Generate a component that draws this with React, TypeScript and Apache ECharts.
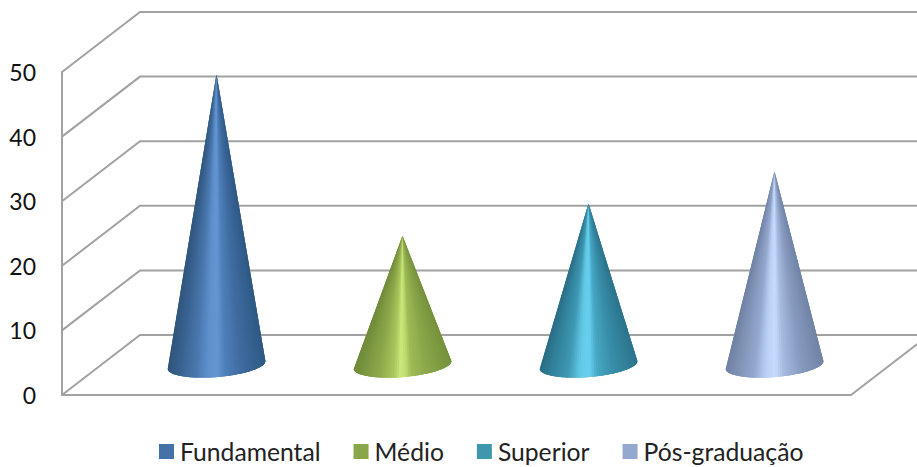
import React, { useEffect, useRef } from "react";
import * as echarts from "echarts";

const seriesNames = ["Fundamental", "Médio", "Superior", "Pós-graduação"];
const fundamental = [45];
const medio = [20];
const superior = [25];
const posGraduacao = [30];
const seriesValues = [fundamental, medio, superior, posGraduacao];
const categories = ["Escolaridade"];
const yTicks = [0, 10, 20, 30, 40, 50];

const legendColors = ["#4472a8", "#8aa64b", "#3f97ae", "#94a8d0"];
// shading across each cone, from left silhouette to right silhouette: [position, colour]
const shades: [number, string][][] = [
  [[0, "#2e5985"], [0.25, "#3f6b9f"], [0.42, "#4f7fb9"], [0.5, "#6496d4"], [0.6, "#5f90cd"], [0.72, "#4a78ae"], [0.88, "#3a6392"], [1, "#30567c"]],
  [[0, "#76923c"], [0.25, "#8ba74a"], [0.42, "#a0bc56"], [0.47, "#bcd96c"], [0.53, "#cbe97f"], [0.6, "#aac65c"], [0.75, "#8ea94b"], [1, "#708b3a"]],
  [[0, "#2c748d"], [0.25, "#388ea9"], [0.42, "#48a8c5"], [0.5, "#68d0ee"], [0.6, "#62c8e6"], [0.72, "#3f98b3"], [0.88, "#31839c"], [1, "#2b6e86"]],
  [[0, "#7184a5"], [0.25, "#899dc2"], [0.42, "#a7bce0"], [0.5, "#c5dcff"], [0.6, "#b9d0f5"], [0.72, "#94a8cd"], [0.88, "#8094b8"], [1, "#7082a2"]],
];

const GRID_LINE = "#a2a2a2";
const DEPTH_X = 78;
const DEPTH_Y = 60;
const CONE_SPACING = 186;
const BASE_A = 49;
const BASE_B = 12;
const TILT = (-4.7 * Math.PI) / 180;
const SLICES = 64;
const OVERLAP = 3;

const hex = (c: string) => [1, 3, 5].map((i) => parseInt(c.slice(i, i + 2), 16));
function shadeAt(stops: [number, string][], f: number) {
  for (let i = 1; i < stops.length; i++) {
    if (f <= stops[i][0]) {
      const [p0, c0] = stops[i - 1];
      const [p1, c1] = stops[i];
      const k = (f - p0) / (p1 - p0);
      const a = hex(c0);
      const b = hex(c1);
      return `rgb(${a.map((v, j) => Math.round(v + (b[j] - v) * k)).join(",")})`;
    }
  }
  return stops[stops.length - 1][1];
}

function wallItem(params: any, api: any) {
  const cs = params.coordSys;
  const y = api.coord([0, api.value(0)])[1];
  return {
    type: "polyline",
    shape: {
      points: [
        [cs.x, y],
        [cs.x + DEPTH_X, y - DEPTH_Y],
        [cs.x + cs.width + DEPTH_X, y - DEPTH_Y],
      ],
    },
    style: { stroke: GRID_LINE, lineWidth: 2, fill: "none" },
  };
}

function floorItem(params: any, api: any) {
  const cs = params.coordSys;
  const y = api.coord([0, 0])[1];
  const x = cs.x + cs.width;
  return {
    type: "line",
    shape: { x1: x, y1: y, x2: x + DEPTH_X, y2: y - DEPTH_Y },
    style: { stroke: GRID_LINE, lineWidth: 2 },
  };
}

const coneItem = (index: number) => (params: any, api: any) => {
  const cs = params.coordSys;
  const cx = cs.x + cs.width / 2 + (index - 1.5) * CONE_SPACING + DEPTH_X / 2;
  const cy = api.coord([0, 0])[1] - DEPTH_Y / 2;
  const tipY = api.coord([0, api.value(1)])[1] - DEPTH_Y / 2;
  const tip = [cx, tipY];
  const at = (s: number) => {
    const t = Math.PI * (1 - Math.min(s, SLICES) / SLICES);
    const u = BASE_A * Math.cos(t);
    const v = BASE_B * Math.sin(t);
    return [cx + u * Math.cos(TILT) - v * Math.sin(TILT), cy + u * Math.sin(TILT) + v * Math.cos(TILT)];
  };
  const children: any[] = [];
  for (let s = 0; s < SLICES; s++) {
    const mid = Math.PI * (1 - (s + 0.5) / SLICES);
    const f = (1 - Math.cos(mid)) / 2;
    const points = [tip];
    for (let k = s; k <= s + OVERLAP; k++) points.push(at(k));
    children.push({
      type: "polygon",
      shape: { points },
      style: { fill: shadeAt(shades[index], f) },
    });
  }
  return { type: "group", children };
};

export default function App() {
  const ref = useRef<HTMLDivElement>(null);
  useEffect(() => {
    const chart = echarts.init(ref.current!, undefined, { renderer: "svg" });
    chart.setOption({
      animation: false,
      backgroundColor: "#ffffff",
      grid: { left: 62, right: 66, top: 72, bottom: 72 },
      xAxis: {
        type: "category",
        data: categories,
        axisLine: { lineStyle: { color: GRID_LINE, width: 2 } },
        axisTick: { show: false },
        axisLabel: { show: false },
      },
      yAxis: {
        type: "value",
        min: 0,
        max: 50,
        interval: 10,
        axisLine: { show: true, lineStyle: { color: GRID_LINE, width: 2 } },
        axisTick: { show: false },
        splitLine: { show: false },
        axisLabel: { color: "#111111", fontFamily: "Lato", fontSize: 23, margin: 26, padding: [3, 0, 0, 0] },
      },
      legend: {
        data: seriesNames,
        left: 159,
        top: 439,
        padding: 0,
        itemWidth: 15,
        itemHeight: 15,
        itemGap: 33,
        icon: "rect",
        textStyle: { color: "#222222", fontFamily: "Lato", fontSize: 24.7, padding: [0, 0, 0, 1] },
      },
      series: [
        {
          type: "custom",
          name: "wall",
          data: yTicks.map((t) => [t]),
          encode: { y: 0 },
          renderItem: wallItem,
          silent: true,
        },
        {
          type: "custom",
          name: "floor",
          data: [[0, 0]],
          encode: { x: 0, y: 1 },
          renderItem: floorItem,
          silent: true,
        },
        ...seriesNames.map((name, i) => ({
          type: "custom",
          name,
          itemStyle: { color: legendColors[i] },
          data: seriesValues[i].map((v, c) => [c, v]),
          encode: { x: 0, y: 1 },
          renderItem: coneItem(i),
        })),
      ],
    });
    return () => chart.dispose();
  }, []);
  return <div ref={ref} style={{ position: "absolute", left: 0, top: 0, width: 917, height: 467 }} />;
}
